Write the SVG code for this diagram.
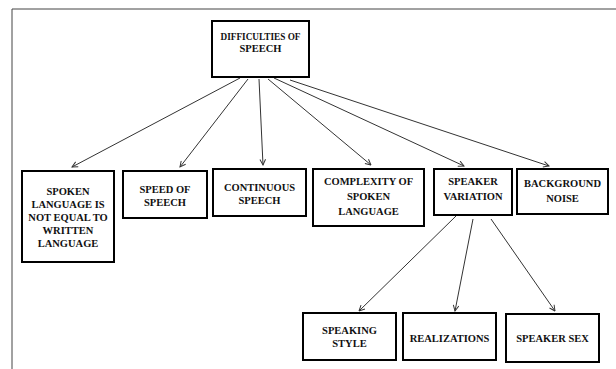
<svg xmlns="http://www.w3.org/2000/svg" width="616" height="369" viewBox="0 0 616 369">
<defs>
<marker id="arr" viewBox="0 0 10 10" refX="9" refY="5" markerWidth="7" markerHeight="7" orient="auto" markerUnits="userSpaceOnUse">
<polyline points="1,1 9,5 1,9" fill="none" stroke="#333" stroke-width="1.4"/>
</marker>
</defs>
<style>
.box{fill:#fff;stroke:#000;stroke-width:2}
.t{font-family:"Liberation Serif","Times New Roman","DejaVu Serif",serif;font-weight:bold;font-size:10.5px;fill:#111;text-anchor:middle}
.c{stroke:#333;stroke-width:1;fill:none;marker-end:url(#arr)}
</style>
<rect width="616" height="369" fill="#fff"/>
<path d="M12,369 V9 H616" fill="none" stroke="#444" stroke-width="1"/>
<g id="connectors">
<line class="c" x1="240" y1="78" x2="72" y2="167"/>
<line class="c" x1="248" y1="79" x2="180" y2="167"/>
<line class="c" x1="259" y1="79" x2="263" y2="165"/>
<line class="c" x1="268" y1="79" x2="371" y2="165"/>
<line class="c" x1="274" y1="78" x2="464" y2="166"/>
<line class="c" x1="290" y1="80" x2="549" y2="166"/>
<line class="c" x1="456" y1="216" x2="359" y2="311"/>
<line class="c" x1="473" y1="219" x2="455" y2="311"/>
<line class="c" x1="491" y1="219" x2="555" y2="311"/>
</g>
<g id="root">
<rect class="box" x="212" y="21" width="97" height="56"/>
<text class="t" x="260.5" y="40" textLength="80" lengthAdjust="spacingAndGlyphs">DIFFICULTIES OF</text>
<text class="t" x="260.5" y="52">SPEECH</text>
</g>
<g id="spoken">
<rect class="box" x="22" y="171" width="92" height="91"/>
<text class="t" x="68" y="195">SPOKEN</text>
<text class="t" x="68" y="208">LANGUAGE IS</text>
<text class="t" x="68" y="221">NOT EQUAL TO</text>
<text class="t" x="68" y="234">WRITTEN</text>
<text class="t" x="68" y="247">LANGUAGE</text>
</g>
<g id="speed">
<rect class="box" x="123" y="171" width="84" height="47"/>
<text class="t" x="165" y="193">SPEED OF</text>
<text class="t" x="165" y="206">SPEECH</text>
</g>
<g id="continuous">
<rect class="box" x="213" y="169" width="93" height="47"/>
<text class="t" x="259.5" y="191">CONTINUOUS</text>
<text class="t" x="259.5" y="204">SPEECH</text>
</g>
<g id="complexity">
<rect class="box" x="313" y="169" width="111" height="57"/>
<text class="t" x="368.5" y="185">COMPLEXITY OF</text>
<text class="t" x="368.5" y="200">SPOKEN</text>
<text class="t" x="368.5" y="215">LANGUAGE</text>
</g>
<g id="variation">
<rect class="box" x="434" y="169" width="78" height="46"/>
<text class="t" x="473" y="185">SPEAKER</text>
<text class="t" x="473" y="200">VARIATION</text>
</g>
<g id="noise">
<rect class="box" x="517" y="169" width="91" height="45"/>
<text class="t" x="562.5" y="187">BACKGROUND</text>
<text class="t" x="562.5" y="202">NOISE</text>
</g>
<g id="style">
<rect class="box" x="303" y="313" width="93" height="47"/>
<text class="t" x="349.5" y="334">SPEAKING</text>
<text class="t" x="349.5" y="347">STYLE</text>
</g>
<g id="realizations">
<rect class="box" x="403" y="313" width="93" height="47"/>
<text class="t" x="449.5" y="342">REALIZATIONS</text>
</g>
<g id="sex">
<rect class="box" x="506" y="314" width="93" height="48"/>
<text class="t" x="552.5" y="342">SPEAKER SEX</text>
</g>
</svg>
